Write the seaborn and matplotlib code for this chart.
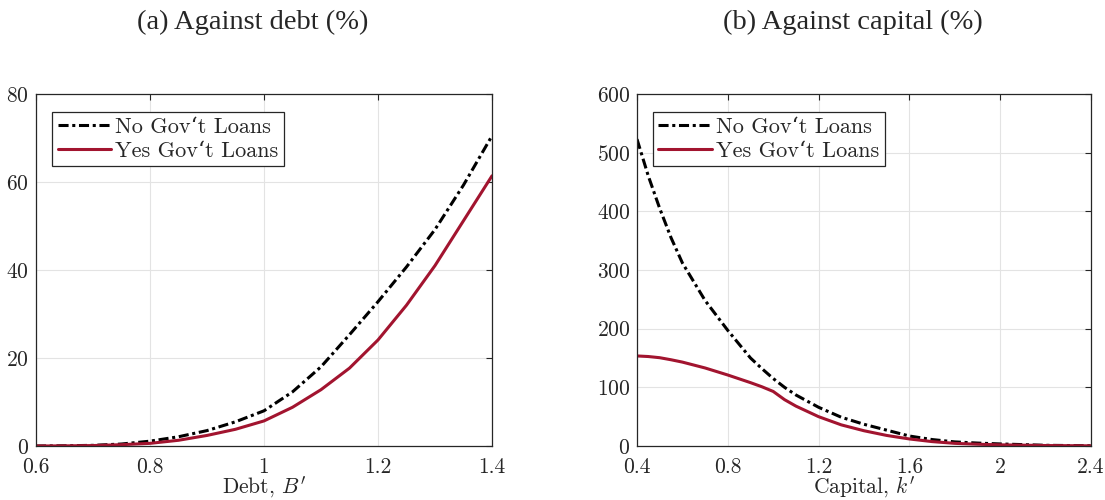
import numpy as np
import pandas as pd
import matplotlib
matplotlib.use("Agg")
import matplotlib.pyplot as plt
import seaborn as sns

# ---- data ----
debt = [0.6, 0.65, 0.7, 0.75, 0.8, 0.85, 0.9, 0.95, 1.0, 1.05, 1.1, 1.15, 1.2, 1.25, 1.3, 1.35, 1.4]
debt_no = [0.0, 0.05, 0.15, 0.45, 1.1, 2.1, 3.5, 5.5, 8.0, 12.3, 18.0, 25.3, 32.8, 40.7, 49.2, 59.3, 70.5]
debt_yes = [0.0, 0.03, 0.1, 0.3, 0.6, 1.3, 2.4, 3.8, 5.7, 8.8, 12.8, 17.7, 24.1, 32.0, 41.0, 51.2, 61.4]

capital = [0.4, 0.45, 0.5, 0.55, 0.6, 0.7, 0.8, 0.9, 0.95, 1.0, 1.05, 1.1, 1.2, 1.3, 1.4, 1.5,
           1.6, 1.7, 1.8, 1.9, 2.0, 2.2, 2.4]
cap_no = [523, 460, 405, 355, 312, 248, 197, 150, 132, 115, 100, 87, 66, 49, 37, 27,
          17, 11, 7, 5, 3.5, 1.2, 0.4]
cap_yes = [153.5, 152.5, 150.5, 147, 143, 133, 121, 108, 101, 93, 79, 68, 50, 36, 26, 18,
           12, 7.5, 4.5, 3, 2, 0.8, 0.3]

series_names = ["No Gov\u2018t Loans", "Yes Gov\u2018t Loans"]
titles = ["(a) Against debt (%)", "(b) Against capital (%)"]

sns.set_theme(style="whitegrid")
plt.rcParams["font.family"] = ["cmr10", "DejaVu Serif"]
plt.rcParams["mathtext.fontset"] = "cm"
plt.rcParams["axes.formatter.use_mathtext"] = True
plt.rcParams["axes.unicode_minus"] = False

RED = "#A2142F"
BOX = "#262626"

fig = plt.figure(figsize=(11.05, 5.0), dpi=100)
ax1 = fig.add_axes([36 / 1105, 54 / 500, 456 / 1105, 352 / 500])
ax2 = fig.add_axes([637 / 1105, 54 / 500, 454 / 1105, 352 / 500])

def draw(ax, x, y_no, y_yes):
    df = pd.DataFrame({"x": list(x) * 2,
                       "y": list(y_no) + list(y_yes),
                       "s": [series_names[0]] * len(x) + [series_names[1]] * len(x)})
    sns.lineplot(data=df, x="x", y="y", hue="s", style="s",
                 palette={series_names[0]: "black", series_names[1]: RED},
                 dashes={series_names[0]: (3.3, 1.2, 1.0, 1.2), series_names[1]: ""},
                 linewidth=2.2, ax=ax, legend=True)
    ax.set_facecolor("white")
    ax.grid(True, color="#e3e3e3", linewidth=0.8)
    for sp in ax.spines.values():
        sp.set_color(BOX)
        sp.set_linewidth(0.9)
    ax.tick_params(axis="both", direction="in", length=4, width=0.8, color=BOX,
                   top=True, right=True, labelsize=15.5, labelcolor=BOX)
    ax.xaxis.set_tick_params(pad=8)
    ax.yaxis.set_tick_params(pad=5)
    leg = ax.legend(loc="upper left", bbox_to_anchor=(0.035, 0.95), fontsize=16,
                    frameon=True, fancybox=False, framealpha=1, edgecolor=BOX,
                    handlelength=2.4, handletextpad=0.2, borderpad=0.25, labelspacing=0.2,
                    borderaxespad=0)
    leg.get_frame().set_linewidth(0.9)
    for t in leg.get_texts():
        t.set_fontfamily(["cmr10", "DejaVu Serif"])

draw(ax1, debt, debt_no, debt_yes)
ax1.set_xlim(0.6, 1.4)
ax1.set_ylim(0, 80)
ax1.set_xticks([0.6, 0.8, 1.0, 1.2, 1.4])
ax1.set_xticklabels(["0.6", "0.8", "1", "1.2", "1.4"])
ax1.set_yticks([0, 20, 40, 60, 80])
ax1.set_xlabel("Debt, $B'$", fontsize=15.5, color=BOX, labelpad=-1)
ax1.set_ylabel("")

draw(ax2, capital, cap_no, cap_yes)
ax2.set_xlim(0.4, 2.4)
ax2.set_ylim(0, 600)
ax2.set_xticks([0.4, 0.8, 1.2, 1.6, 2.0, 2.4])
ax2.set_xticklabels(["0.4", "0.8", "1.2", "1.6", "2", "2.4"])
ax2.set_yticks([0, 100, 200, 300, 400, 500, 600])
ax2.set_xlabel("Capital, $k'$", fontsize=15.5, color=BOX, labelpad=-1)
ax2.set_ylabel("")

fig.text(253 / 1105, 1 - 22 / 500, titles[0], ha="center", va="center",
         fontsize=20.5, family="Liberation Serif")
fig.text(853 / 1105, 1 - 22 / 500, titles[1], ha="center", va="center",
         fontsize=20.5, family="Liberation Serif")

fig.savefig("out.png", dpi=100, facecolor="white")
